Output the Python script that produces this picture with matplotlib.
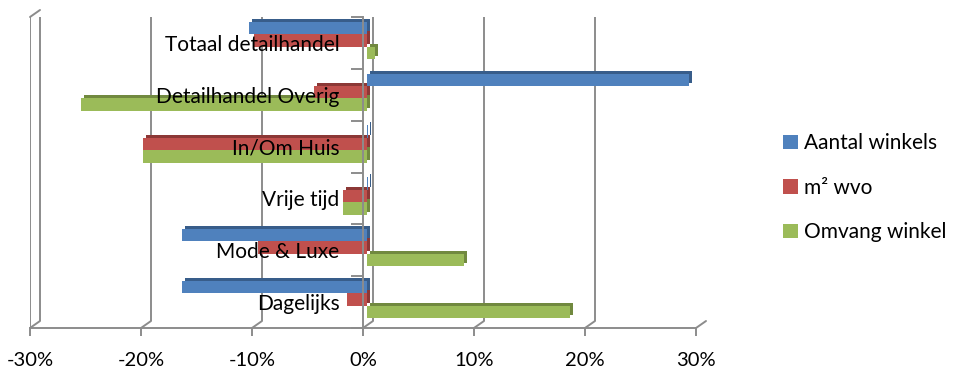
import matplotlib.pyplot as plt
from matplotlib.patches import Patch
from matplotlib.transforms import ScaledTranslation
import numpy as np

categories = ["Dagelijks", "Mode & Luxe", "Vrije tijd", "In/Om Huis",
              "Detailhandel Overig", "Totaal detailhandel"]
series_names = ["Aantal winkels", "m\u00b2 wvo", "Omvang winkel"]
aantal_winkels = [-16.7, -16.7, 0.1, 0.1, 29.0, -10.6]
m2_wvo = [-1.8, -9.8, -2.2, -20.2, -4.8, -10.2]
omvang_winkel = [18.3, 8.7, -2.2, -20.2, -25.8, 0.7]
x_ticks = [-30, -20, -10, 0, 10, 20, 30]

FACE = ["#4F81BD", "#C0504D", "#9BBB59"]
TOP = ["#385D8A", "#8C3836", "#71893F"]
GRID = "#8C8C8C"
FONT = 15

plt.rcParams["font.family"] = ["Lato", "DejaVu Sans"]

fig = plt.figure(figsize=(9.55, 3.72), dpi=100)
ax = fig.add_axes([30 / 955, 1 - 328 / 372, 666 / 955, 311 / 372])
ax.set_xlim(-30, 30)
ax.set_ylim(-0.5, len(categories) - 0.5)


def shift(dx, dy):
    # pixel offset on top of data coords (fake 3D depth)
    return ax.transData + ScaledTranslation(dx / 100, dy / 100, fig.dpi_scale_trans)


DX, DY = 10, 7  # back wall offset

# back wall gridlines + floor diagonals
for t in x_ticks:
    ax.plot([t, t], [-0.5, len(categories) - 0.5], color=GRID, lw=1.4,
            transform=shift(DX, DY), zorder=1, solid_capstyle="butt")
    ax.annotate("", xy=(t, -0.5), xytext=(DX, DY), textcoords="offset pixels",
                arrowprops=dict(arrowstyle="-", color=GRID, lw=1.4,
                                shrinkA=0, shrinkB=0), zorder=1)

# left side wall front edge + top diagonal
ax.plot([x_ticks[0], x_ticks[0]], [-0.5, len(categories) - 0.5], color=GRID,
        lw=1.4, zorder=1)
ax.annotate("", xy=(x_ticks[0], len(categories) - 0.5), xytext=(DX, DY),
            textcoords="offset pixels",
            arrowprops=dict(arrowstyle="-", color=GRID, lw=1.4,
                            shrinkA=0, shrinkB=0), zorder=1)

# bars, drawn bottom series first so the upper bar hides the top face
y = np.arange(len(categories))
h = 0.24
values = [aantal_winkels, m2_wvo, omvang_winkel]
offsets = [h, 0.0, -h]
for i in [2, 1, 0]:
    ax.barh(y + offsets[i] + 0.03, values[i], height=h, color=TOP[i],
            transform=shift(7, 4), zorder=2 + (2 - i) * 0.1)
    ax.barh(y + offsets[i] + 0.03, values[i], height=h, color=FACE[i],
            transform=shift(4, 1), zorder=2.05 + (2 - i) * 0.1)

# axes styling
for s in ["top", "right"]:
    ax.spines[s].set_visible(False)
ax.spines["bottom"].set_color(GRID)
ax.spines["bottom"].set_linewidth(1.4)
ax.spines["left"].set_position(("data", 0))
ax.spines["left"].set_color(GRID)
ax.spines["left"].set_linewidth(1.4)
ax.spines["left"].set_zorder(3)

ax.set_xticks(x_ticks, labels=[f"{t}%" for t in x_ticks])
ax.tick_params(axis="x", direction="out", length=6, width=1.4, color=GRID,
               labelsize=14.5, pad=11)
ax.set_yticks(y, labels=categories)
ax.set_yticks(np.arange(len(categories) + 1) - 0.5, minor=True)
ax.tick_params(axis="y", which="major", length=0, labelsize=FONT, pad=17)
ax.tick_params(axis="y", which="minor", direction="out", length=9, width=1.4,
               color=GRID)
ax.yaxis.set_zorder(5)
ax.xaxis.set_zorder(5)

handles = [Patch(facecolor=FACE[i], edgecolor="none") for i in range(3)]
fig.legend(handles, series_names, loc="upper left",
           bbox_to_anchor=(775 / 955, 1 - 125 / 372), frameon=False,
           fontsize=FONT, handlelength=0.68, handleheight=0.68,
           handletextpad=0.33, labelspacing=1.18, borderaxespad=0)

fig.savefig("out.png", dpi=100)
